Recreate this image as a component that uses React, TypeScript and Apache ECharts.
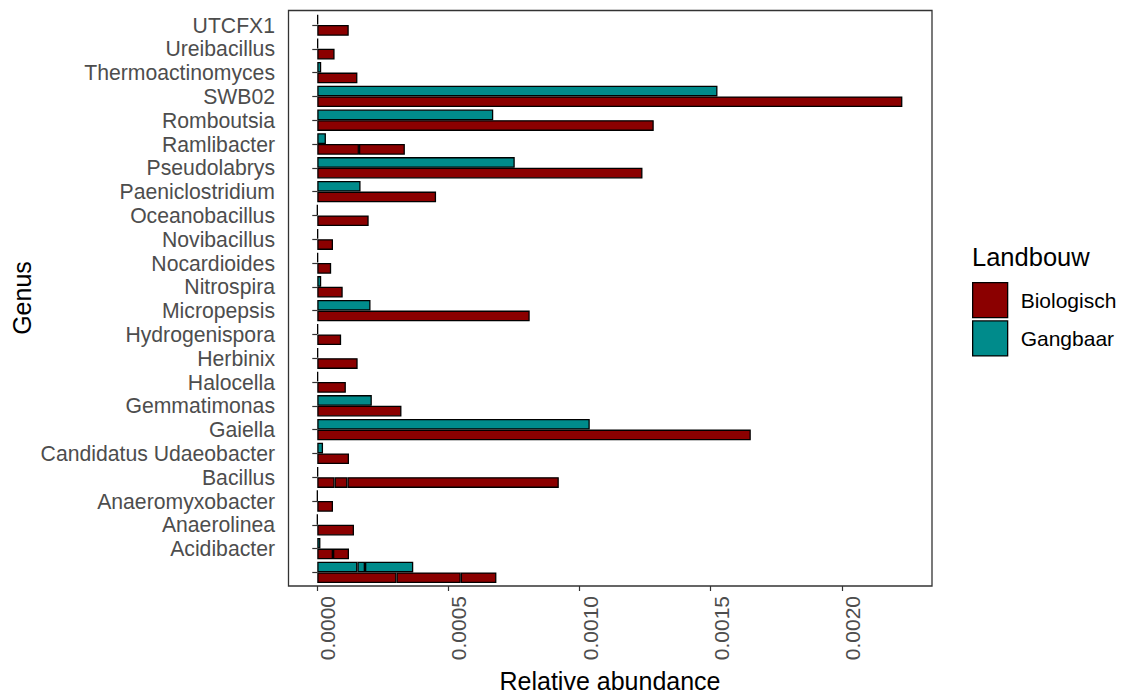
import React, { useEffect, useRef } from "react";
import * as echarts from "echarts";

// Categories listed bottom-to-top (ECharts category y-axis starts at the bottom)
const categories = [
  "",
  "Acidibacter",
  "Anaerolinea",
  "Anaeromyxobacter",
  "Bacillus",
  "Candidatus Udaeobacter",
  "Gaiella",
  "Gemmatimonas",
  "Halocella",
  "Herbinix",
  "Hydrogenispora",
  "Micropepsis",
  "Nitrospira",
  "Nocardioides",
  "Novibacillus",
  "Oceanobacillus",
  "Paeniclostridium",
  "Pseudolabrys",
  "Ramlibacter",
  "Romboutsia",
  "SWB02",
  "Thermoactinomyces",
  "Ureibacillus",
  "UTCFX1",
];

// Biologisch stacked segments
const bioSeg1 = [
  0.000302, 0.00006, 0.00014, 0.00006, 0.000066, 0.000121, 0.001653, 0.000321,
  0.000109, 0.000154, 0.000091, 0.00081, 0.000097, 0.000053, 0.00006, 0.000196,
  0.000453, 0.00124, 0.000159, 0.001283, 0.002231, 0.000153, 0.000066, 0.00012,
];
const bioSeg2 = [
  0.000245, 0.000061, null, null, 0.000049, null, null, null,
  null, null, null, null, null, null, null, null,
  null, null, 0.000175, null, null, null, null, null,
];
const bioSeg3 = [
  0.000136, null, null, null, 0.000806, null, null, null,
  null, null, null, null, null, null, null, null,
  null, null, null, null, null, null, null, null,
];

// Gangbaar stacked segments
const gangSeg1 = [
  0.000153, 0.000012, 0.0000005, 0.0000005, 0.000003, 0.000022, 0.001039, 0.000208,
  0.000003, 0.000003, 0.000003, 0.000203, 0.000015, 0.000003, 0.000003, 0.0000005,
  0.000165, 0.000753, 0.000033, 0.000671, 0.001526, 0.000015, 0.000003, 0.000003,
];
const gangSeg2 = [
  0.000029, null, null, null, null, null, null, null,
  null, null, null, null, null, null, null, null,
  null, null, null, null, null, null, null, null,
];
const gangSeg3 = [
  0.000184, null, null, null, null, null, null, null,
  null, null, null, null, null, null, null, null,
  null, null, null, null, null, null, null, null,
];

const xTicks = [0, 0.0005, 0.001, 0.0015, 0.002];
const seriesNames = ["Biologisch", "Gangbaar"];
const colors = ["#8B0000", "#008B8B"];

const FONT = "'Liberation Sans', Arial, sans-serif";

export default function App() {
  const ref = useRef<HTMLDivElement>(null);

  useEffect(() => {
    if (!ref.current) return;
    const chart = echarts.init(ref.current, undefined, { renderer: "svg" });

    const mk = (name: string, data: (number | null)[], stack: string, color: string) => ({
      type: "bar",
      name,
      stack,
      data,
      barCategoryGap: "10%",
      barGap: "0%",
      silent: true,
      itemStyle: { color, borderColor: "#000000", borderWidth: 1.3 },
      emphasis: { disabled: true },
    });

    const option: any = {
      animation: false,
      backgroundColor: "#ffffff",
      textStyle: { fontFamily: FONT },
      grid: {
        left: 288,
        right: 194,
        top: 13.1,
        bottom: 109.7,
        containLabel: false,
        outerBoundsMode: "none",
        show: false,
      },
      xAxis: {
        type: "value",
        min: -0.0001116,
        max: 0.002344,
        offset: 1.7,
        name: "Relative abundance",
        nameLocation: "middle",
        nameGap: 82,
        nameTextStyle: { fontSize: 25, color: "#000000", fontFamily: FONT },
        axisLine: { show: false },
        splitLine: { show: false },
        axisTick: {
          show: true,
          customValues: xTicks,
          length: 5,
          lineStyle: { color: "#333333", width: 1.2 },
        },
        axisLabel: {
          customValues: xTicks,
          rotate: 90,
          margin: 10,
          verticalAlign: "top",
          fontSize: 21,
          color: "#4D4D4D",
          fontFamily: FONT,
          formatter: (v: number) => v.toFixed(4),
        },
      },
      yAxis: {
        type: "category",
        data: categories,
        axisLine: { show: false },
        axisTick: {
          show: true,
          alignWithLabel: true,
          interval: 0,
          length: 5,
          lineStyle: { color: "#333333", width: 1.2 },
        },
        axisLabel: {
          interval: 0,
          margin: 13,
          fontSize: 21.2,
          color: "#4D4D4D",
          fontFamily: FONT,
        },
        splitLine: { show: false },
      },
      legend: {
        orient: "vertical",
        left: 972,
        top: 282,
        padding: 0,
        itemWidth: 35,
        itemHeight: 35,
        itemGap: 2,
        icon: "rect",
        data: seriesNames,
        itemStyle: { borderColor: "#000000", borderWidth: 1.3 },
        textStyle: { fontSize: 21, color: "#000000", fontFamily: FONT, padding: [0, 0, 0, 8] },
        selectedMode: false,
      },
      graphic: [
        {
          type: "rect",
          silent: true,
          shape: { x: 288.5, y: 10.5, width: 643.5, height: 575.5 },
          style: { fill: "none", stroke: "#333333", lineWidth: 1.3 },
          z: 100,
        },
        {
          type: "text",
          left: 972,
          top: 244,
          style: {
            text: "Landbouw",
            fontSize: 25.5,
            fill: "#000000",
            fontFamily: FONT,
          },
        },
        {
          type: "text",
          x: 22,
          y: 298,
          rotation: Math.PI / 2,
          style: {
            text: "Genus",
            fontSize: 25,
            fill: "#000000",
            fontFamily: FONT,
            align: "center",
            verticalAlign: "middle",
          },
        },
      ],
      // In a horizontal ECharts bar chart the first stack is drawn on top,
      // so Gangbaar comes first to sit above Biologisch as in the reference.
      series: [
        mk(seriesNames[1], gangSeg1, "gang", colors[1]),
        mk(seriesNames[1], gangSeg2, "gang", colors[1]),
        mk(seriesNames[1], gangSeg3, "gang", colors[1]),
        mk(seriesNames[0], bioSeg1, "bio", colors[0]),
        mk(seriesNames[0], bioSeg2, "bio", colors[0]),
        mk(seriesNames[0], bioSeg3, "bio", colors[0]),
      ],
    };

    chart.setOption(option);
    return () => chart.dispose();
  }, []);

  return (
    <div
      ref={ref}
      style={{ position: "fixed", left: 0, top: 0, width: 1126, height: 694, background: "#fff" }}
    />
  );
}
